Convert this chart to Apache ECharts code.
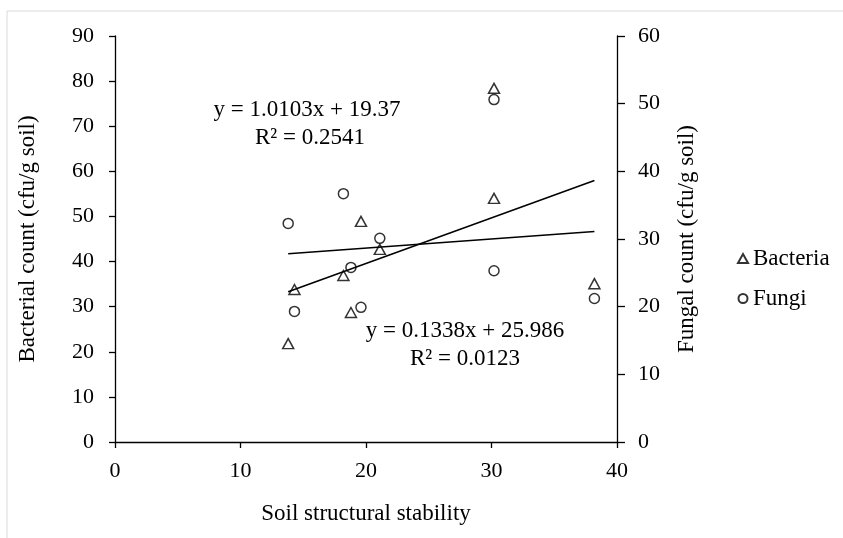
<!DOCTYPE html>
<html>
<head>
<meta charset="utf-8">
<script src="https://cdn.jsdelivr.net/npm/echarts@6/dist/echarts.min.js"></script>
<style>
html,body{margin:0;padding:0;background:#fff;}
#chart{width:843px;height:538px;}
</style>
</head>
<body>
<div id="chart"></div>
<script>
// Soil structural stability (x) for each sample
const stability = [13.8, 14.3, 18.2, 18.8, 19.6, 21.1, 30.2, 30.2, 38.2];
// Bacterial count (left axis)
const bacteria = [21.8, 33.8, 36.9, 28.7, 48.9, 42.7, 78.4, 54.0, 35.1];
// Fungal count (right axis)
const fungi = [32.3, 19.3, 36.7, 25.8, 19.9, 30.1, 50.6, 25.3, 21.2];
// Linear trendline coefficients shown on the chart [slope, intercept]
const bacteriaFit = [1.0103, 19.37];
const fungiFit = [0.1338, 25.986];
const xTicks = [0, 10, 20, 30, 40];
const leftTicks = [0, 10, 20, 30, 40, 50, 60, 70, 80, 90];
const rightTicks = [0, 10, 20, 30, 40, 50, 60];

const FONT = 'Liberation Serif';
const xMin = Math.min(...stability), xMax = Math.max(...stability);
const fitLine = (c) => [[xMin, c[0] * xMin + c[1]], [xMax, c[0] * xMax + c[1]]];

const chart = echarts.init(document.getElementById('chart'), null, {renderer: 'canvas'});
const axisCommon = {
  axisLine: {show: true, onZero: false, lineStyle: {color: '#000', width: 1.3}},
  axisTick: {show: true, length: 6, lineStyle: {color: '#000', width: 1.3}},
  splitLine: {show: false},
  axisLabel: {color: '#000', fontFamily: FONT, fontSize: 22},
  nameTextStyle: {color: '#000', fontFamily: FONT, fontSize: 23}
};
const hollow = {color: 'rgba(0,0,0,0)', borderColor: '#000', borderWidth: 1.5};

chart.setOption({
  animation: false,
  backgroundColor: '#fff',
  grid: {left: 115, right: 226, top: 36, bottom: 96, containLabel: false},
  xAxis: Object.assign({}, axisCommon, {
    type: 'value', min: xTicks[0], max: xTicks[xTicks.length - 1], interval: 10,
    name: 'Soil structural stability', nameLocation: 'middle', nameGap: 60,
    axisLabel: Object.assign({}, axisCommon.axisLabel, {margin: 18})
  }),
  yAxis: [
    Object.assign({}, axisCommon, {
      type: 'value', position: 'left', min: leftTicks[0], max: leftTicks[leftTicks.length - 1], interval: 10,
      name: 'Bacterial count (cfu/g soil)', nameLocation: 'middle', nameGap: 76, nameRotate: 90,
      axisLabel: Object.assign({}, axisCommon.axisLabel, {margin: 21})
    }),
    Object.assign({}, axisCommon, {
      type: 'value', position: 'right', min: rightTicks[0], max: rightTicks[rightTicks.length - 1], interval: 10,
      name: 'Fungal count (cfu/g soil)', nameLocation: 'middle', nameGap: 58, nameRotate: 90,
      axisTick: {show: true, length: 8, lineStyle: {color: '#000', width: 1.3}},
      axisLabel: Object.assign({}, axisCommon.axisLabel, {margin: 21})
    })
  ],
  legend: {
    orient: 'vertical', left: 737, top: 247, padding: 0, itemWidth: 10, itemHeight: 9, itemGap: 17,
    data: ['Bacteria', 'Fungi'],
    textStyle: {color: '#000', fontFamily: FONT, fontSize: 23}
  },
  series: [
    {
      name: 'Bacteria', type: 'scatter', yAxisIndex: 0, symbol: 'triangle', symbolSize: [11, 10],
      itemStyle: hollow, data: stability.map((x, i) => [x, bacteria[i]])
    },
    {
      name: 'Fungi', type: 'scatter', yAxisIndex: 1, symbol: 'circle', symbolSize: 10,
      itemStyle: hollow, data: stability.map((x, i) => [x, fungi[i]])
    },
    {
      name: 'Bacteria trend', type: 'line', yAxisIndex: 0, symbol: 'none', silent: true,
      lineStyle: {color: '#000', width: 1.5}, data: fitLine(bacteriaFit)
    },
    {
      name: 'Fungi trend', type: 'line', yAxisIndex: 1, symbol: 'none', silent: true,
      lineStyle: {color: '#000', width: 1.5}, data: fitLine(fungiFit)
    }
  ],
  graphic: [
    {type: 'rect', shape: {x: 7, y: 11, width: 900, height: 600}, style: {fill: 'none', stroke: '#d9d9d9', lineWidth: 1}, silent: true},
    {type: 'text', x: 307, y: 110, style: {text: 'y = 1.0103x + 19.37', fontFamily: FONT, fontSize: 23, fill: '#000', align: 'center', verticalAlign: 'middle'}},
    {type: 'text', x: 310, y: 138, style: {text: 'R² = 0.2541', fontFamily: FONT, fontSize: 23, fill: '#000', align: 'center', verticalAlign: 'middle'}},
    {type: 'text', x: 465, y: 331, style: {text: 'y = 0.1338x + 25.986', fontFamily: FONT, fontSize: 23, fill: '#000', align: 'center', verticalAlign: 'middle'}},
    {type: 'text', x: 465, y: 359, style: {text: 'R² = 0.0123', fontFamily: FONT, fontSize: 23, fill: '#000', align: 'center', verticalAlign: 'middle'}}
  ]
});
</script>
</body>
</html>
